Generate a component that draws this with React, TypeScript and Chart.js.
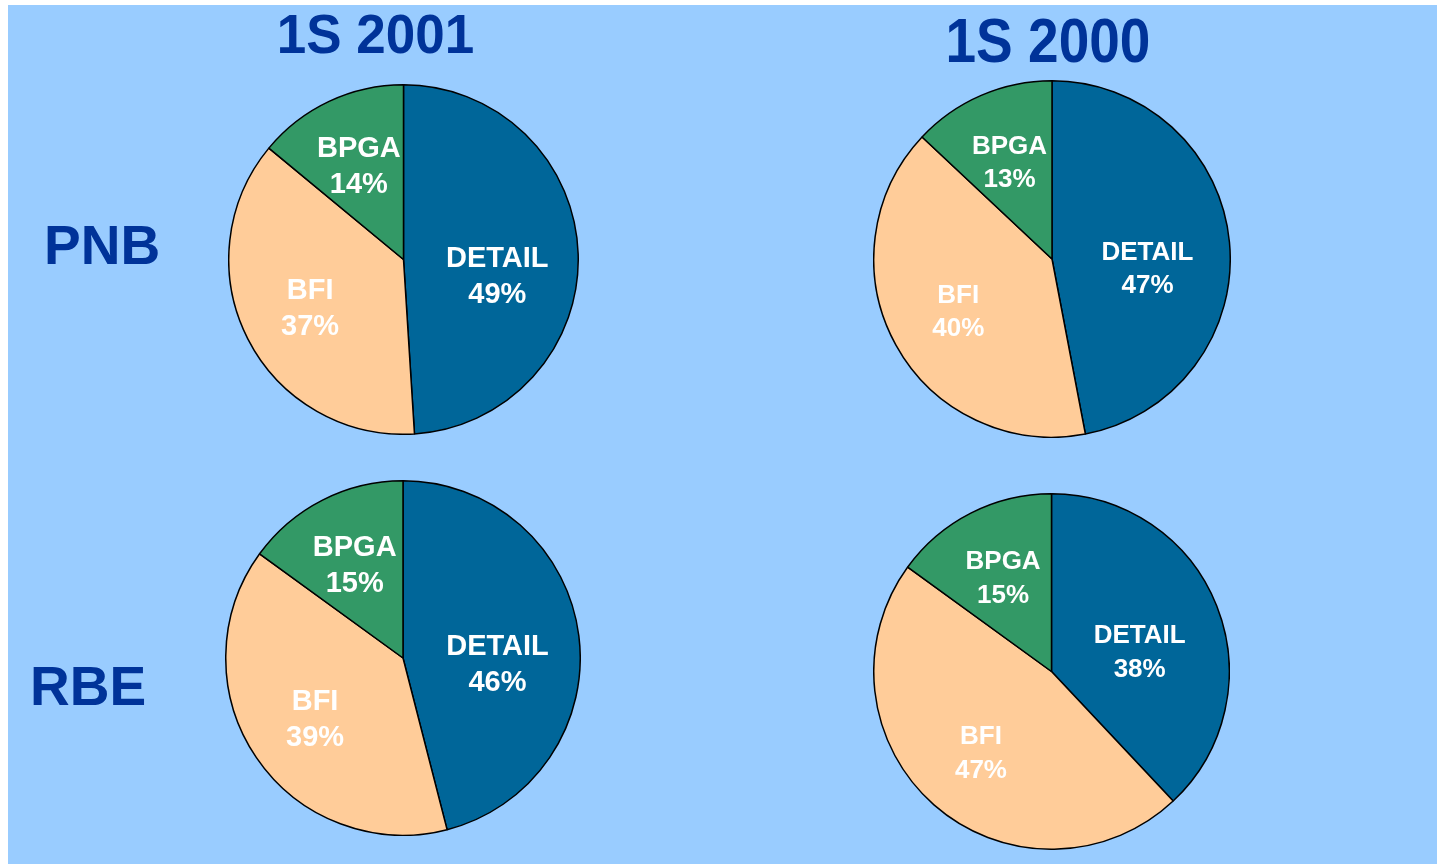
import React, { useEffect, useRef } from "react";
import { Chart, registerables } from "chart.js";

Chart.register(...registerables);

// ---------- DATA ----------
const categories = ["DETAIL", "BFI", "BPGA"];
const periods = ["1S 2001", "1S 2000"];
const rowLabels = ["PNB", "RBE"];
const pnb2001 = [49, 37, 14];
const pnb2000 = [47, 40, 13];
const rbe2001 = [46, 39, 15];
const rbe2000 = [38, 47, 15];

// ---------- STYLE ----------
const sliceColors = ["#006699", "#FFCC99", "#339966"];
const bgColor = "#99CCFF";
const titleColor = "#003399";
const FONT = '"Liberation Sans", Arial, Helvetica, sans-serif';

const labelPlugin = {
  id: "pieLabels",
  afterDatasetsDraw(chart: any, _args: any, opts: any) {
    const ctx = chart.ctx;
    const meta = chart.getDatasetMeta(0);
    const data = chart.data.datasets[0].data;
    const labels = chart.data.labels;
    const fs = opts.fontSize;
    const lh = opts.lineHeight;
    const cap = 0.716 * fs;
    ctx.save();
    ctx.fillStyle = "#FFFFFF";
    ctx.font = `bold ${fs}px ${FONT}`;
    ctx.textAlign = "center";
    ctx.textBaseline = "alphabetic";
    meta.data.forEach((arc: any, i: number) => {
      const p = arc.getProps(["x", "y", "startAngle", "endAngle", "outerRadius"], true);
      const mid = (p.startAngle + p.endAngle) / 2;
      const r = p.outerRadius * opts.radial;
      const nudge = (opts.nudge && opts.nudge[i]) || [0, 0];
      const px = p.x + Math.cos(mid) * r + nudge[0];
      const py = p.y + Math.sin(mid) * r + nudge[1];
      const b1 = py - lh / 2 + cap / 2;
      ctx.fillText(String(labels[i]), px, b1);
      ctx.fillText(`${data[i]}%`, px, b1 + lh);
    });
    ctx.restore();
  },
};

type PieProps = {
  values: number[];
  left: number;
  top: number;
  size: number;
  fontSize: number;
  lineHeight: number;
};

function Pie({ values, left, top, size, fontSize, lineHeight }: PieProps) {
  const ref = useRef<HTMLCanvasElement | null>(null);
  useEffect(() => {
    if (!ref.current) return;
    const chart = new Chart(ref.current, {
      type: "pie",
      data: {
        labels: categories,
        datasets: [
          {
            data: values,
            backgroundColor: sliceColors,
            borderColor: "#000000",
            borderWidth: 1.5,
            hoverBorderWidth: 1.5,
            hoverOffset: 0,
            offset: 0,
          },
        ],
      },
      options: {
        responsive: false,
        maintainAspectRatio: false,
        animation: false,
        devicePixelRatio: 1,
        events: [],
        layout: { padding: 0 },
        plugins: {
          legend: { display: false },
          tooltip: { enabled: false },
          title: { display: false },
          pieLabels: {
            fontSize,
            lineHeight,
            radial: 0.6,
            nudge: [[-11, 18], [0, 0], [0, 0]],
          },
        } as any,
      },
      plugins: [labelPlugin],
    });
    return () => chart.destroy();
  }, []);
  return (
    <canvas
      ref={ref}
      width={size}
      height={size}
      style={{ position: "absolute", left, top, width: size, height: size }}
    />
  );
}

const textBase: React.CSSProperties = {
  position: "absolute",
  fontFamily: FONT,
  fontWeight: "bold",
  color: titleColor,
  whiteSpace: "nowrap",
  margin: 0,
};

export default function App() {
  return (
    <div
      style={{
        position: "absolute",
        left: 0,
        top: 0,
        width: 1437,
        height: 864,
        overflow: "hidden",
        background: "#FFFFFF",
      }}
    >
      <div
        style={{
          position: "absolute",
          left: 8,
          top: 5,
          width: 1429,
          height: 859,
          background: bgColor,
        }}
      />
      {/* column titles */}
      <div
        style={{
          ...textBase,
          left: 175.5,
          width: 400,
          textAlign: "center",
          top: 5.7,
          fontSize: 53,
          lineHeight: "53px",
          transform: "scaleY(1.05)",
          transformOrigin: "center top",
        }}
      >
        {periods[0]}
      </div>
      <div
        style={{
          ...textBase,
          left: 848,
          width: 400,
          textAlign: "center",
          top: 9.8,
          fontSize: 55,
          lineHeight: "55px",
          transform: "scaleY(1.14)",
          transformOrigin: "center top",
        }}
      >
        {periods[1]}
      </div>
      {/* row labels */}
      <div style={{ ...textBase, left: 44, top: 216.7, fontSize: 55, lineHeight: "56px" }}>
        {rowLabels[0]}
      </div>
      <div style={{ ...textBase, left: 30, top: 657.7, fontSize: 55, lineHeight: "56px" }}>
        {rowLabels[1]}
      </div>

      <Pie values={pnb2001} left={228} top={84} size={351} fontSize={29} lineHeight={36} />
      <Pie values={pnb2000} left={873} top={80} size={358} fontSize={26} lineHeight={33} />
      <Pie values={rbe2001} left={225} top={480} size={356} fontSize={29} lineHeight={36} />
      <Pie values={rbe2000} left={873} top={493} size={357} fontSize={26} lineHeight={34} />
    </div>
  );
}
